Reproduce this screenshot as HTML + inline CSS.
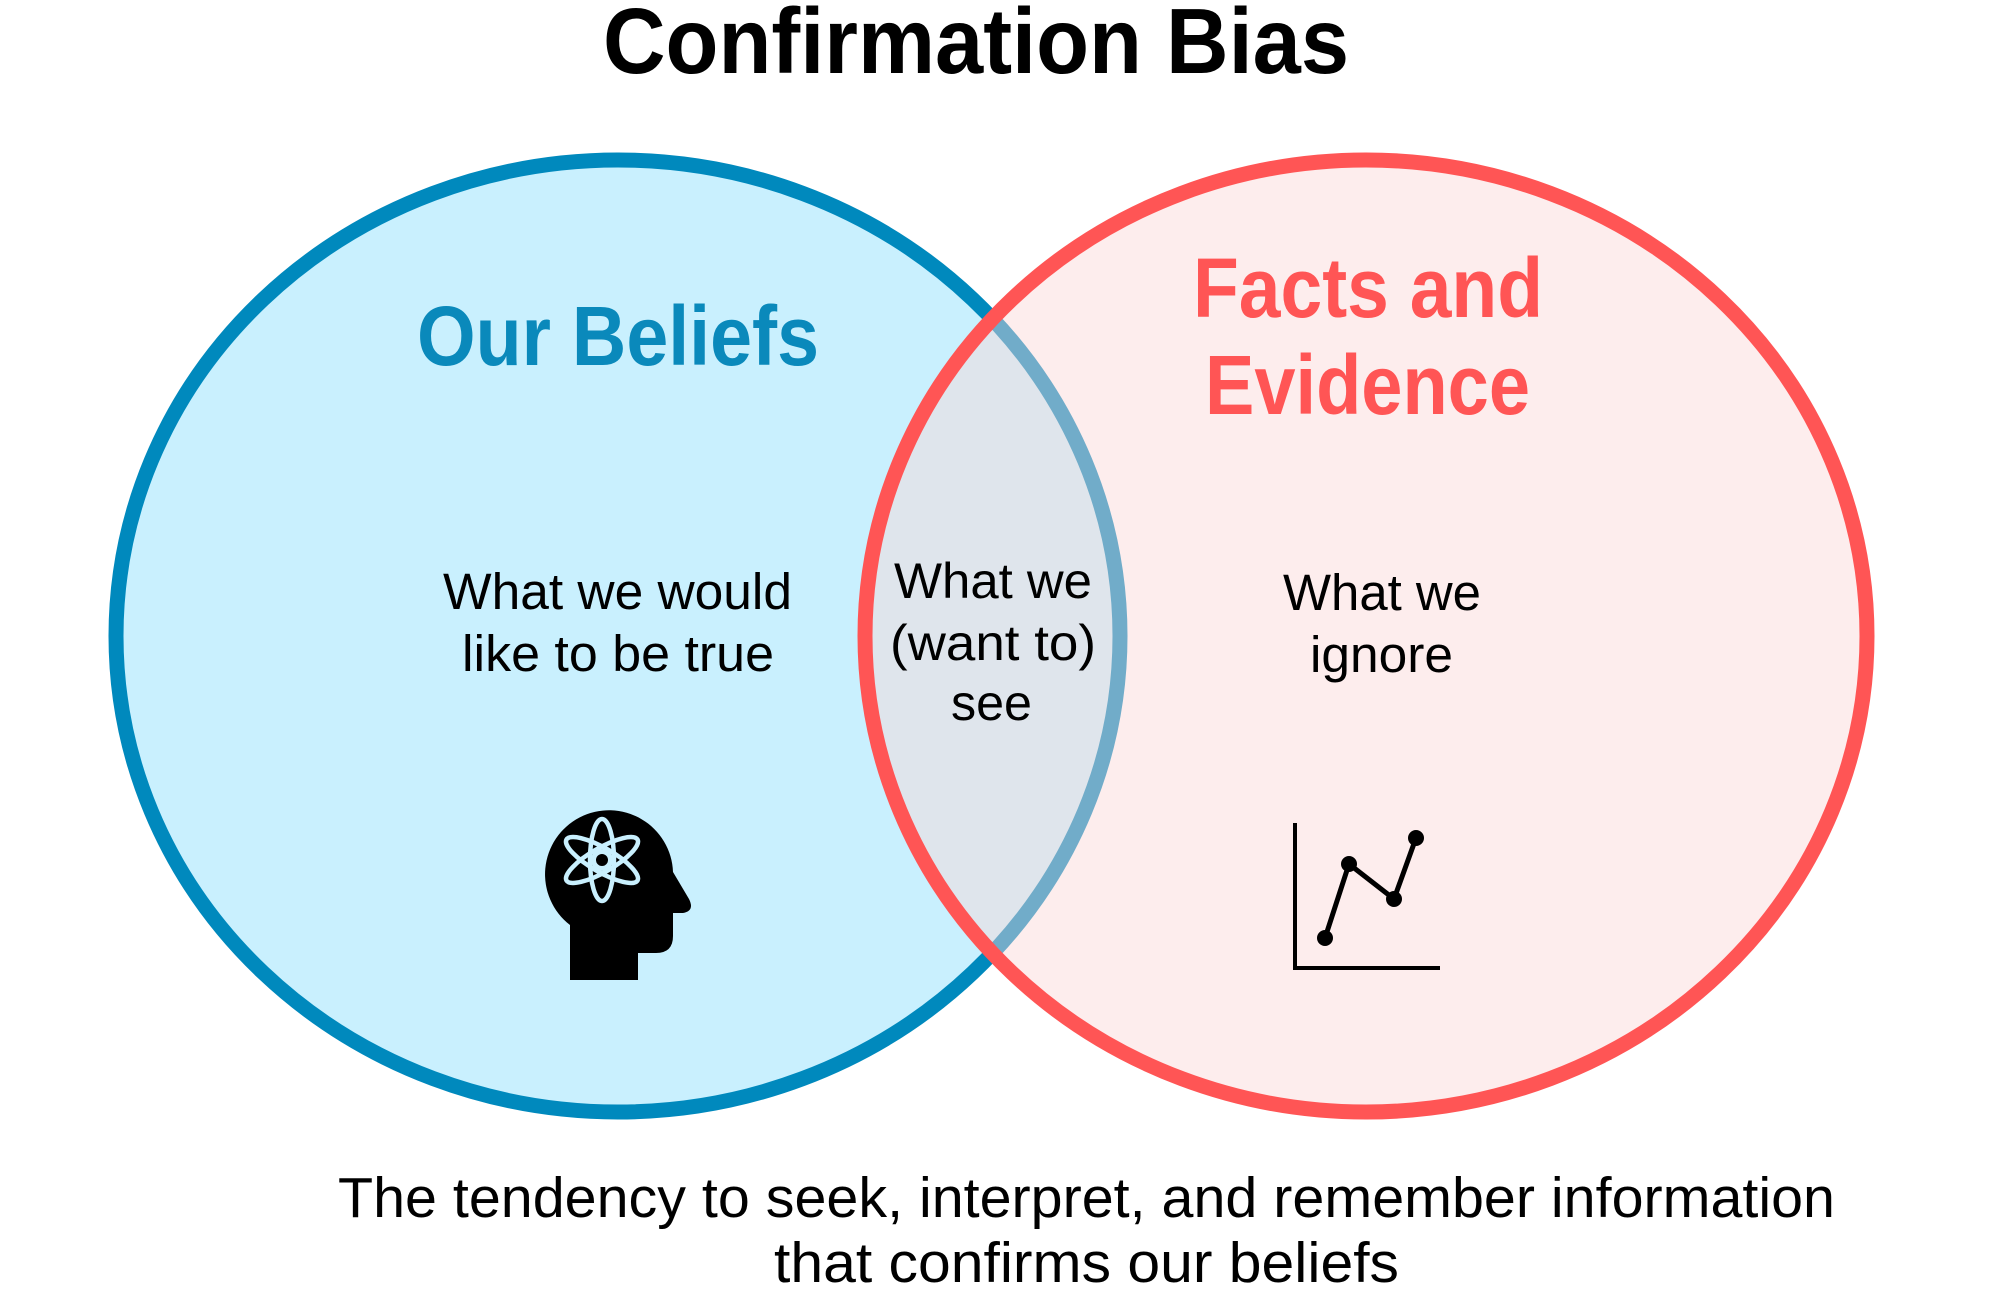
<!DOCTYPE html>
<html>
<head>
<meta charset="utf-8">
<style>
  html, body { margin: 0; padding: 0; background: #ffffff; }
  svg { display: block; }
  text { font-family: "Liberation Sans", Arial, sans-serif; }
</style>
</head>
<body>
<svg width="2000" height="1296" viewBox="0 0 2000 1296" xmlns="http://www.w3.org/2000/svg">
  <rect x="0" y="0" width="2000" height="1296" fill="#ffffff"/>

  <!-- Title -->
  <text x="603" y="73" font-size="93" font-weight="bold" fill="#000" textLength="746" lengthAdjust="spacingAndGlyphs">Confirmation Bias</text>

  <!-- Left circle: Our Beliefs -->
  <ellipse cx="618" cy="636" rx="502" ry="476" fill="#c9f0fe" stroke="#0089bd" stroke-width="15"/>

  <!-- Right circle: Facts and Evidence -->
  <ellipse cx="1366" cy="636" rx="501" ry="476" fill="rgba(250,215,215,0.45)" stroke="#ff5555" stroke-width="15"/>

  <!-- Headings -->
  <text x="417" y="365" font-size="84" font-weight="bold" fill="#0a89bb" textLength="402" lengthAdjust="spacingAndGlyphs">Our Beliefs</text>
  <text x="1193" y="317" font-size="84" font-weight="bold" fill="#ff5555" textLength="350" lengthAdjust="spacingAndGlyphs">Facts and</text>
  <text x="1205" y="414" font-size="84" font-weight="bold" fill="#ff5555" textLength="325" lengthAdjust="spacingAndGlyphs">Evidence</text>

  <!-- Left body text -->
  <text x="443" y="609" font-size="51" fill="#000" textLength="349" lengthAdjust="spacingAndGlyphs">What we would</text>
  <text x="462" y="671" font-size="51" fill="#000" textLength="312" lengthAdjust="spacingAndGlyphs">like to be true</text>

  <!-- Middle body text -->
  <text x="894" y="598" font-size="50" fill="#000" textLength="198" lengthAdjust="spacingAndGlyphs">What we</text>
  <text x="890" y="660" font-size="50" fill="#000" textLength="206" lengthAdjust="spacingAndGlyphs">(want to)</text>
  <text x="951" y="720" font-size="50" fill="#000" textLength="81" lengthAdjust="spacingAndGlyphs">see</text>

  <!-- Right body text -->
  <text x="1283" y="610" font-size="51" fill="#000" textLength="198" lengthAdjust="spacingAndGlyphs">What we</text>
  <text x="1310" y="672" font-size="51" fill="#000" textLength="143" lengthAdjust="spacingAndGlyphs">ignore</text>

  <!-- Head icon -->
  <path d="M570 980 L570 925 A64 64 0 1 1 673 872 L689 899 Q695 911 683 913 L673 913 L673 936 Q673 953 656 953 L638 953 L638 980 Z" fill="#000"/>
  <!-- Atom -->
  <g fill="none" stroke="#c9f0fe" stroke-width="4.5">
    <ellipse cx="602" cy="860" rx="12" ry="41"/>
    <ellipse cx="602" cy="860" rx="12" ry="41" transform="rotate(60 602 860)"/>
    <ellipse cx="602" cy="860" rx="12" ry="41" transform="rotate(-60 602 860)"/>
    <circle cx="602" cy="860" r="8.5" stroke-width="5"/>
  </g>

  <!-- Chart icon -->
  <g>
    <rect x="1293" y="823" width="4" height="147" fill="#000"/>
    <rect x="1293" y="966" width="147" height="4" fill="#000"/>
    <polyline points="1325,938 1349,864 1394,899 1416,838" fill="none" stroke="#000" stroke-width="5" stroke-linejoin="round"/>
    <circle cx="1325" cy="938" r="8" fill="#000"/>
    <circle cx="1349" cy="864" r="8" fill="#000"/>
    <circle cx="1394" cy="899" r="8" fill="#000"/>
    <circle cx="1416" cy="838" r="8" fill="#000"/>
  </g>

  <!-- Bottom caption -->
  <text x="338" y="1217" font-size="57" fill="#000" textLength="1497" lengthAdjust="spacingAndGlyphs">The tendency to seek, interpret, and remember information</text>
  <text x="774" y="1282" font-size="57" fill="#000" textLength="625" lengthAdjust="spacingAndGlyphs">that confirms our beliefs</text>
</svg>
</body>
</html>
